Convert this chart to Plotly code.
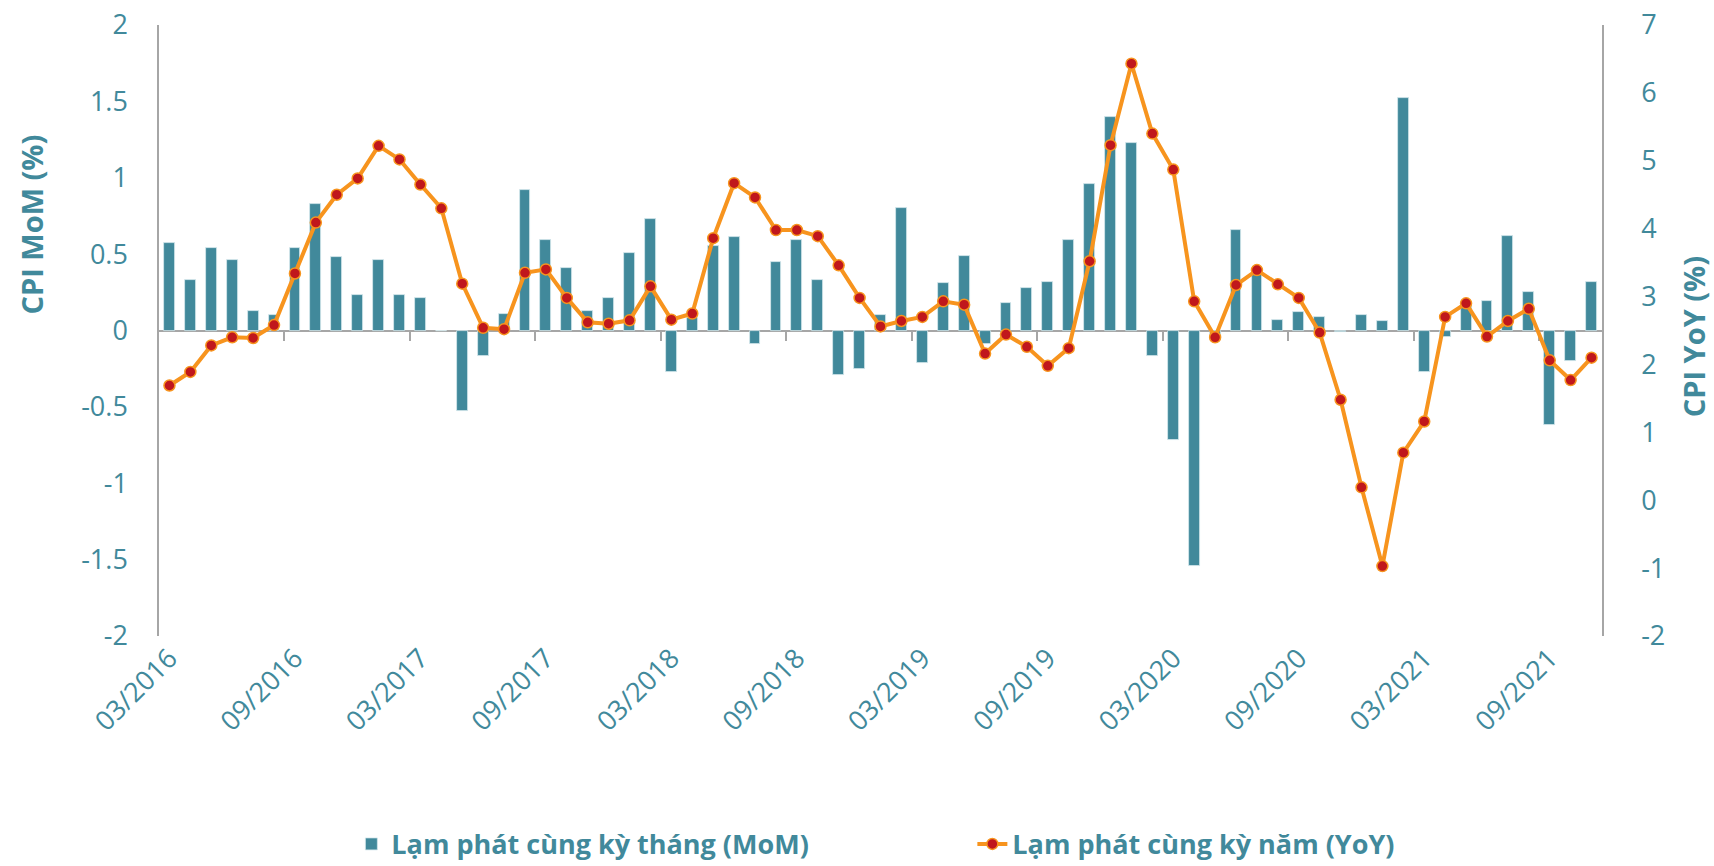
import plotly.graph_objects as go

# ---- data ----
months = [f"{m:02d}/{y}" for y in range(2016, 2022) for m in range(1, 13)]
months = months[months.index("03/2016"):months.index("11/2021") + 1]

mom = [0.57, 0.33, 0.54, 0.46, 0.13, 0.10, 0.54, 0.83, 0.48, 0.23,
       0.46, 0.23, 0.21, 0.00, -0.53, -0.17, 0.11, 0.92, 0.59, 0.41, 0.13, 0.21,
       0.51, 0.73, -0.27, 0.08, 0.55, 0.61, -0.09, 0.45, 0.59, 0.33, -0.29, -0.25,
       0.10, 0.80, -0.21, 0.31, 0.49, -0.09, 0.18, 0.28, 0.32, 0.59, 0.96, 1.40,
       1.23, -0.17, -0.72, -1.54, -0.03, 0.66, 0.40, 0.07, 0.12, 0.09, -0.01, 0.10,
       0.06, 1.52, -0.27, -0.04, 0.16, 0.19, 0.62, 0.25, -0.62, -0.20, 0.32]

yoy = [1.69, 1.89, 2.28, 2.40, 2.39, 2.58, 3.34, 4.09, 4.50, 4.74,
       5.22, 5.02, 4.65, 4.30, 3.19, 2.54, 2.52, 3.35, 3.40, 2.98, 2.62, 2.60,
       2.65, 3.15, 2.66, 2.75, 3.86, 4.67, 4.46, 3.98, 3.98, 3.89, 3.46, 2.98,
       2.56, 2.64, 2.70, 2.93, 2.88, 2.16, 2.44, 2.26, 1.98, 2.24, 3.52, 5.23,
       6.43, 5.40, 4.87, 2.93, 2.40, 3.17, 3.39, 3.18, 2.98, 2.47, 1.48, 0.19,
       -0.97, 0.70, 1.16, 2.70, 2.90, 2.41, 2.64, 2.82, 2.06, 1.77, 2.10]

left_ticks = [2, 1.5, 1, 0.5, 0, -0.5, -1, -1.5, -2]
left_labels = ["2", "1.5", "1", "0.5", "0", "-0.5", "-1", "-1.5", "-2"]
right_ticks = [7, 6, 5, 4, 3, 2, 1, 0, -1, -2]
right_labels = ["7", "6", "5", "4", "3", "2", "1", "0", "-1", "-2"]

name_mom = "Lạm phát cùng kỳ tháng (MoM)"
name_yoy = "Lạm phát cùng kỳ năm (YoY)"

TEAL = "#41899B"
ORANGE = "#F7941E"
RED = "#C0171C"
GRAY = "#A6A6A6"
FONT = "Open Sans"

idx = list(range(len(months)))
label_idx = idx[::6]
boundary_idx = [i - 0.5 for i in idx[6::6]]
xr = [-0.5, len(months) - 0.5]

fig = go.Figure()
fig.add_trace(go.Bar(
    x=idx, y=mom, name=name_mom, xaxis="x", yaxis="y",
    width=0.52, marker=dict(color=TEAL, line=dict(color="#D6E8EC", width=0.8)),
))
fig.add_trace(go.Scatter(
    x=idx, y=yoy, name=name_yoy, xaxis="x", yaxis="y2", mode="lines+markers",
    line=dict(color=ORANGE, width=4),
    marker=dict(color=RED, size=11, line=dict(color=ORANGE, width=1.5)),
))
# empty trace only to activate the category axis drawn at the zero level
fig.add_trace(go.Scatter(x=[], y=[], xaxis="x2", yaxis="y", showlegend=False,
                         hoverinfo="skip"))

fig.update_layout(
    width=1714, height=866,
    margin=dict(l=159, r=112, t=25, b=230, autoexpand=False),
    paper_bgcolor="white", plot_bgcolor="white",
    font=dict(family=FONT, color=TEAL),
    bargap=0,
    xaxis=dict(
        range=xr, tickmode="array", tickvals=label_idx,
        ticktext=[months[i] for i in label_idx],
        tickangle=-45, tickfont=dict(size=27, color=TEAL, family=FONT),
        showline=False, showgrid=False, zeroline=False, ticks="",
        ticklabelstandoff=0, automargin=False,
    ),
    xaxis2=dict(
        range=xr, overlaying="x", anchor="free", position=0.5, side="bottom",
        showline=True, linecolor=GRAY, linewidth=1.5, layer="below traces",
        tickmode="array", tickvals=boundary_idx, ticks="outside",
        ticklen=10, tickcolor=GRAY, tickwidth=1.5,
        showticklabels=False, showgrid=False, zeroline=False, automargin=False,
    ),
    yaxis=dict(
        range=[-2, 2], tickmode="array", tickvals=left_ticks, ticktext=left_labels,
        tickfont=dict(size=27, color=TEAL, family=FONT),
        showline=True, linecolor=GRAY, linewidth=1.5, ticks="",
        showgrid=False, zeroline=False, ticklabelstandoff=24, automargin=False,
    ),
    yaxis2=dict(
        range=[-2, 7], overlaying="y", side="right", anchor="x",
        tickmode="array", tickvals=right_ticks, ticktext=right_labels,
        tickfont=dict(size=27, color=TEAL, family=FONT),
        showline=True, linecolor=GRAY, linewidth=1.5, ticks="",
        showgrid=False, zeroline=False, ticklabelstandoff=32, automargin=False,
    ),
    legend=dict(
        orientation="h", xref="container", yref="container",
        x=0.205, y=0.025, xanchor="left", yanchor="middle",
        font=dict(size=27, color=TEAL, family=FONT, weight="bold"),
        entrywidth=576, entrywidthmode="pixels",
        bgcolor="rgba(0,0,0,0)", traceorder="normal",
    ),
    annotations=[
        dict(text="<b>CPI MoM (%)</b>", xref="paper", yref="paper",
             x=-0.0885, y=0.674, xanchor="center", yanchor="middle",
             textangle=-90, showarrow=False,
             font=dict(size=29, color=TEAL, family=FONT)),
        dict(text="<b>CPI YoY (%)</b>", xref="paper", yref="paper",
             x=1.0635, y=0.49, xanchor="center", yanchor="middle",
             textangle=-90, showarrow=False,
             font=dict(size=29, color=TEAL, family=FONT)),
    ],
)

fig.write_html("out.html", config={"displayModeBar": False},
               post_script="document.body.style.margin='0px';")
